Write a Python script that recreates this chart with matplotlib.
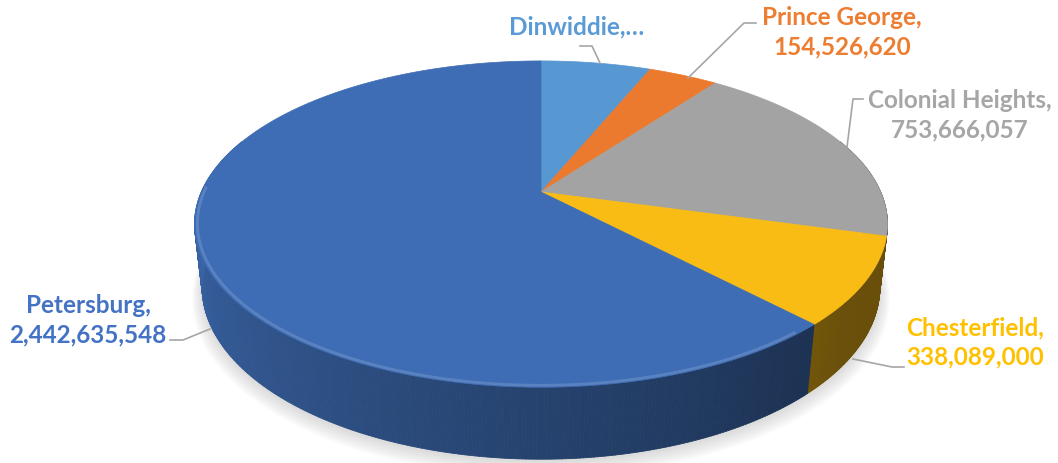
import numpy as np
import matplotlib.pyplot as plt
from matplotlib.collections import PolyCollection
from matplotlib.patches import Polygon
from matplotlib.colors import to_rgb

# datos
counties = ["Dinwiddie", "Prince George", "Colonial Heights", "Chesterfield", "Petersburg"]
values = [244000000, 154526620, 753666057, 338089000, 2442635548]
face_colors = ["#5797D2", "#EB7A2E", "#A3A3A3", "#F9BC15", "#3E6DB5"]
label_colors = ["#5B9BD5", "#ED7D31", "#A6A6A6", "#FFC000", "#4472C4"]
labels = ["Dinwiddie,…"] + [f"{c},\n{v:,}" for c, v in zip(counties[1:], values[1:])]

# layout (pixels)
label_pos = [(577, 27), (842, 32), (960, 115), (975, 342), (88, 320)]
leaders = [
    [(600, 64), (592, 47), (580, 47)],
    [(688, 79), (744, 24), (756, 24)],
    [(847, 148), (853, 100), (863, 100)],
    [(853, 360), (892, 368), (904, 368)],
    [(210, 330), (183, 341), (170, 341)],
]

# proyeccion en perspectiva del disco
phi = np.radians(27.5)
dist = 4.51
focal = 1532
thick = 0.211
cx, cy = 541, 193


def project(theta, z=0.0, r=1.0):
    u = r * np.sin(theta)
    v = r * np.cos(theta)
    depth = v * np.cos(phi) + dist - z * np.sin(phi)
    up = v * np.sin(phi) + z * np.cos(phi)
    return cx + focal * u / depth, cy - focal * up / depth


fig = plt.figure(figsize=(10.58, 4.64), dpi=100)
ax = fig.add_axes([0, 0, 1, 1])
ax.set_xlim(0, 1058)
ax.set_ylim(464, 0)
ax.axis("off")

fracs = np.array(values) / sum(values)
bounds = np.concatenate([[0], np.cumsum(fracs)]) * 2 * np.pi

# sombra
th = np.linspace(0, 2 * np.pi, 400)
for k in range(8):
    bx, by = project(th, -thick, 1.0 + 0.004 * k)
    ax.add_patch(Polygon(np.column_stack([bx, by + 3 + k]), closed=True,
                         facecolor="#808080", edgecolor="none", alpha=0.035, zorder=1))

# paredes laterales
quads, cols = [], []
lo, hi = np.radians(70), np.radians(290)
for i in range(len(values)):
    a0, a1 = max(bounds[i], lo), min(bounds[i + 1], hi)
    if a1 <= a0:
        continue
    n = max(2, int(np.degrees(a1 - a0) * 2))
    ts = np.linspace(a0, a1, n)
    base = np.array(to_rgb(face_colors[i]))
    for t0, t1 in zip(ts[:-1], ts[1:]):
        x0, y0 = project(t0)
        x1, y1 = project(t1)
        x2, y2 = project(t1, -thick)
        x3, y3 = project(t0, -thick)
        quads.append([(x0, y0), (x1, y1), (x2, y2), (x3, y3)])
        f = np.clip(0.45 + 0.0036 * (np.degrees(0.5 * (t0 + t1)) - 136), 0.42, 0.95)
        cols.append(base * f)
ax.add_collection(PolyCollection(quads, facecolors=cols, edgecolors=cols, linewidths=0.6, zorder=2))

# caras superiores
for i in range(len(values)):
    ts = np.linspace(bounds[i], bounds[i + 1], 200)
    ax_, ay_ = project(ts)
    pts = np.vstack([[cx, cy], np.column_stack([ax_, ay_])])
    ax.add_patch(Polygon(pts, closed=True, facecolor=face_colors[i],
                         edgecolor=face_colors[i], linewidth=0.5, zorder=3))

# brillo del borde (solo al frente)
ts = np.linspace(np.radians(140), np.radians(272), 200)
hx, hy = project(ts, 0.0, 0.992)
ax.plot(hx, hy, color="white", alpha=0.15, lw=2, zorder=4, solid_capstyle="butt")

# etiquetas
for i in range(len(values)):
    lx, ly = label_pos[i]
    ax.text(lx, ly, labels[i], ha="center", va="center", fontsize=17.5, fontweight="bold",
            family=["Lato", "DejaVu Sans"], color=label_colors[i], linespacing=1.32, zorder=6)
    pts = np.array(leaders[i])
    ax.plot(pts[:, 0], pts[:, 1], color="#A6A6A6", lw=1.2, zorder=5)

plt.savefig("out.png", dpi=100)
